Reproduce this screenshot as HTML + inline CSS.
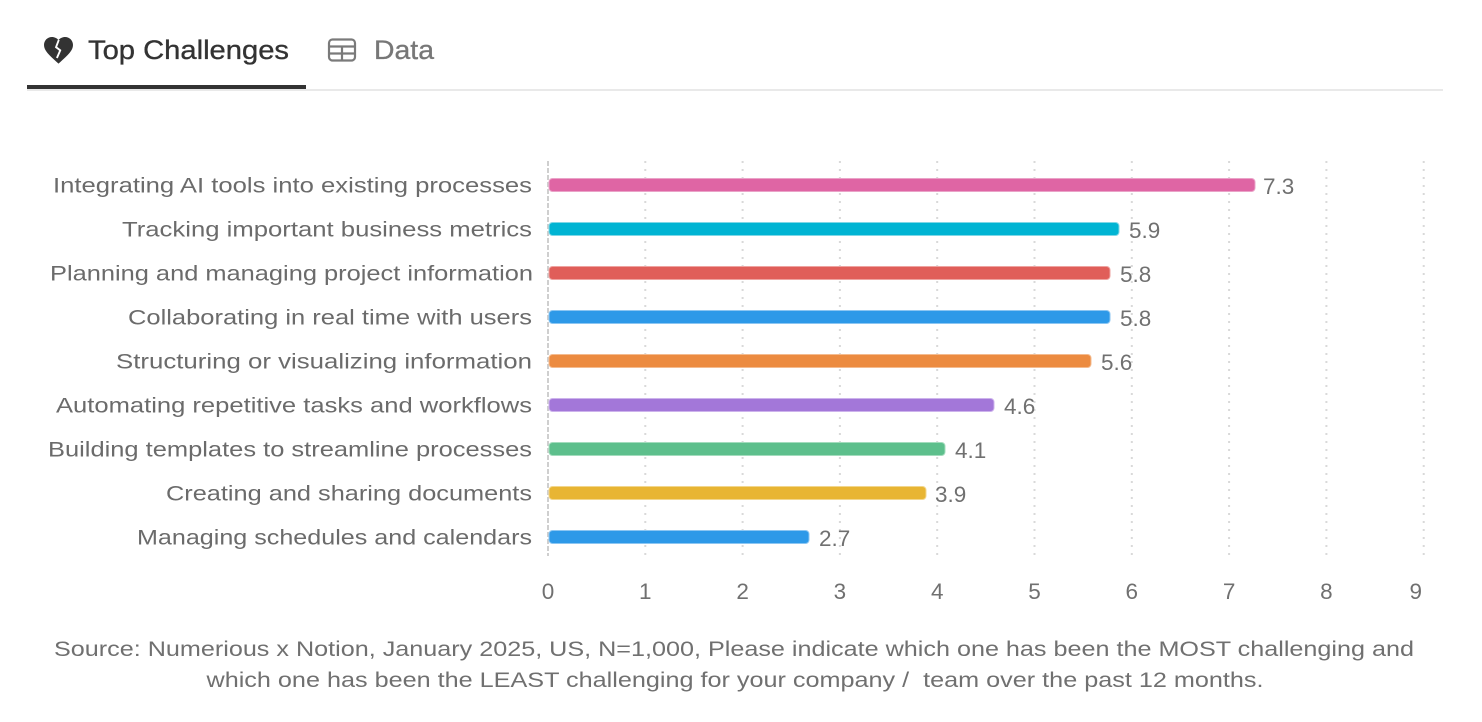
<!DOCTYPE html>
<html>
<head>
<meta charset="utf-8">
<style>
  html, body { margin: 0; padding: 0; background: #ffffff; }
  body { width: 1482px; height: 722px; overflow: hidden; }
  svg { display: block; }
  text { font-family: "Liberation Sans", "DejaVu Sans", sans-serif; }
</style>
</head>
<body>
<svg width="1482" height="722" viewBox="0 0 1482 722" xmlns="http://www.w3.org/2000/svg">
  <!-- Tabs -->
  <g transform="translate(41.1,32.65) scale(1.45)">
    <path d="M12 21.35l-1.45-1.32C5.4 15.36 2 12.28 2 8.5 2 5.42 4.42 3 7.5 3c1.74 0 3.41.81 4.5 2.09C13.09 3.81 14.76 3 16.5 3 19.58 3 22 5.42 22 8.5c0 3.78-3.4 6.86-8.55 11.54L12 21.35z" fill="#333333"/>
    <polyline points="12.2,5 10.3,10 13.2,12.2 10.9,17.5" fill="none" stroke="#ffffff" stroke-width="1.3" stroke-linejoin="miter"/>
  </g>
  <text x="88" y="59" font-size="27" fill="#333333" stroke="#333333" stroke-width="0.35" textLength="201" lengthAdjust="spacingAndGlyphs">Top Challenges</text>

  <g fill="none" stroke="#7a7a7a" stroke-width="2.2">
    <rect x="329" y="39.5" width="26" height="21" rx="3.5"/>
    <line x1="329" y1="46.5" x2="355" y2="46.5"/>
    <line x1="329" y1="53.5" x2="355" y2="53.5"/>
    <line x1="342" y1="46.5" x2="342" y2="60.5"/>
  </g>
  <text x="374" y="59" font-size="27" fill="#777777" stroke="#777777" stroke-width="0.3" textLength="60" lengthAdjust="spacingAndGlyphs">Data</text>

  <rect x="27" y="89" width="1416" height="2" fill="#e9e9e9"/>
  <rect x="27" y="85" width="279" height="4" fill="#333333"/>

  <!-- Grid lines -->
  <g stroke="#d9d9d9" stroke-width="2" stroke-dasharray="2 6">
    <line x1="645.3" y1="161" x2="645.3" y2="556"/>
    <line x1="742.6" y1="161" x2="742.6" y2="556"/>
    <line x1="839.9" y1="161" x2="839.9" y2="556"/>
    <line x1="937.2" y1="161" x2="937.2" y2="556"/>
    <line x1="1034.5" y1="161" x2="1034.5" y2="556"/>
    <line x1="1131.8" y1="161" x2="1131.8" y2="556"/>
    <line x1="1229.1" y1="161" x2="1229.1" y2="556"/>
    <line x1="1326.4" y1="161" x2="1326.4" y2="556"/>
    <line x1="1423.7" y1="161" x2="1423.7" y2="556"/>
  </g>
  <line x1="548" y1="161" x2="548" y2="556" stroke="#cfcfcf" stroke-width="2" stroke-dasharray="5 2"/>

  <!-- Category labels -->
  <g font-size="21.5" fill="#6b6b6b" text-anchor="end">
    <text x="532" y="192.5" textLength="479" lengthAdjust="spacingAndGlyphs">Integrating AI tools into existing processes</text>
    <text x="532" y="236.5" textLength="410" lengthAdjust="spacingAndGlyphs">Tracking important business metrics</text>
    <text x="533" y="280.5" textLength="483" lengthAdjust="spacingAndGlyphs">Planning and managing project information</text>
    <text x="532" y="324.5" textLength="404" lengthAdjust="spacingAndGlyphs">Collaborating in real time with users</text>
    <text x="532" y="368.5" textLength="416" lengthAdjust="spacingAndGlyphs">Structuring or visualizing information</text>
    <text x="532" y="412.5" textLength="476" lengthAdjust="spacingAndGlyphs">Automating repetitive tasks and workflows</text>
    <text x="532" y="456.5" textLength="484" lengthAdjust="spacingAndGlyphs">Building templates to streamline processes</text>
    <text x="532" y="500.5" textLength="366" lengthAdjust="spacingAndGlyphs">Creating and sharing documents</text>
    <text x="532" y="544.5" textLength="395" lengthAdjust="spacingAndGlyphs">Managing schedules and calendars</text>
  </g>

  <!-- Bars -->
  <g stroke-width="1">
    <rect x="549" y="178.5" width="706" height="13" rx="3.5" fill="#df65a4" stroke="#eaa3c8"/>
    <rect x="549" y="222.5" width="570" height="13" rx="3.5" fill="#00b4d3" stroke="#7fd7e6"/>
    <rect x="549" y="266.5" width="561" height="13" rx="3.5" fill="#e05e59" stroke="#eea3a0"/>
    <rect x="549" y="310.5" width="561" height="13" rx="3.5" fill="#2d99e8" stroke="#8cc6f2"/>
    <rect x="549" y="354.5" width="542" height="13" rx="3.5" fill="#ec8b40" stroke="#f4bb8f"/>
    <rect x="549" y="398.5" width="445" height="13" rx="3.5" fill="#a377d9" stroke="#cdb3ec"/>
    <rect x="549" y="442.5" width="396" height="13" rx="3.5" fill="#5dbf8c" stroke="#a3dcbd"/>
    <rect x="549" y="486.5" width="377" height="13" rx="3.5" fill="#e8b533" stroke="#f2d68d"/>
    <rect x="549" y="530.5" width="260" height="13" rx="3.5" fill="#2d99e8" stroke="#8cc6f2"/>
  </g>

  <!-- Value labels -->
  <g font-size="22.5" fill="#707070">
    <text x="1263" y="194">7.3</text>
    <text x="1129" y="238">5.9</text>
    <text x="1120" y="282">5.8</text>
    <text x="1120" y="326">5.8</text>
    <text x="1101" y="370">5.6</text>
    <text x="1004" y="414">4.6</text>
    <text x="955" y="458">4.1</text>
    <text x="935" y="502">3.9</text>
    <text x="819" y="546">2.7</text>
  </g>

  <!-- Tick labels -->
  <g font-size="22.5" fill="#707070" text-anchor="middle">
    <text x="548" y="599">0</text>
    <text x="645.3" y="599">1</text>
    <text x="742.6" y="599">2</text>
    <text x="839.9" y="599">3</text>
    <text x="937.2" y="599">4</text>
    <text x="1034.5" y="599">5</text>
    <text x="1131.8" y="599">6</text>
    <text x="1229.1" y="599">7</text>
    <text x="1326.4" y="599">8</text>
    <text x="1422" y="599" text-anchor="end">9</text>
  </g>

  <!-- Footer -->
  <g font-size="21.5" fill="#707070" text-anchor="middle">
    <text x="734" y="656" textLength="1360" lengthAdjust="spacingAndGlyphs">Source: Numerious x Notion, January 2025, US, N=1,000, Please indicate which one has been the MOST challenging and</text>
    <text x="735" y="687" textLength="1057" lengthAdjust="spacingAndGlyphs" xml:space="preserve">which one has been the LEAST challenging for your company /  team over the past 12 months.</text>
  </g>
</svg>
</body>
</html>
